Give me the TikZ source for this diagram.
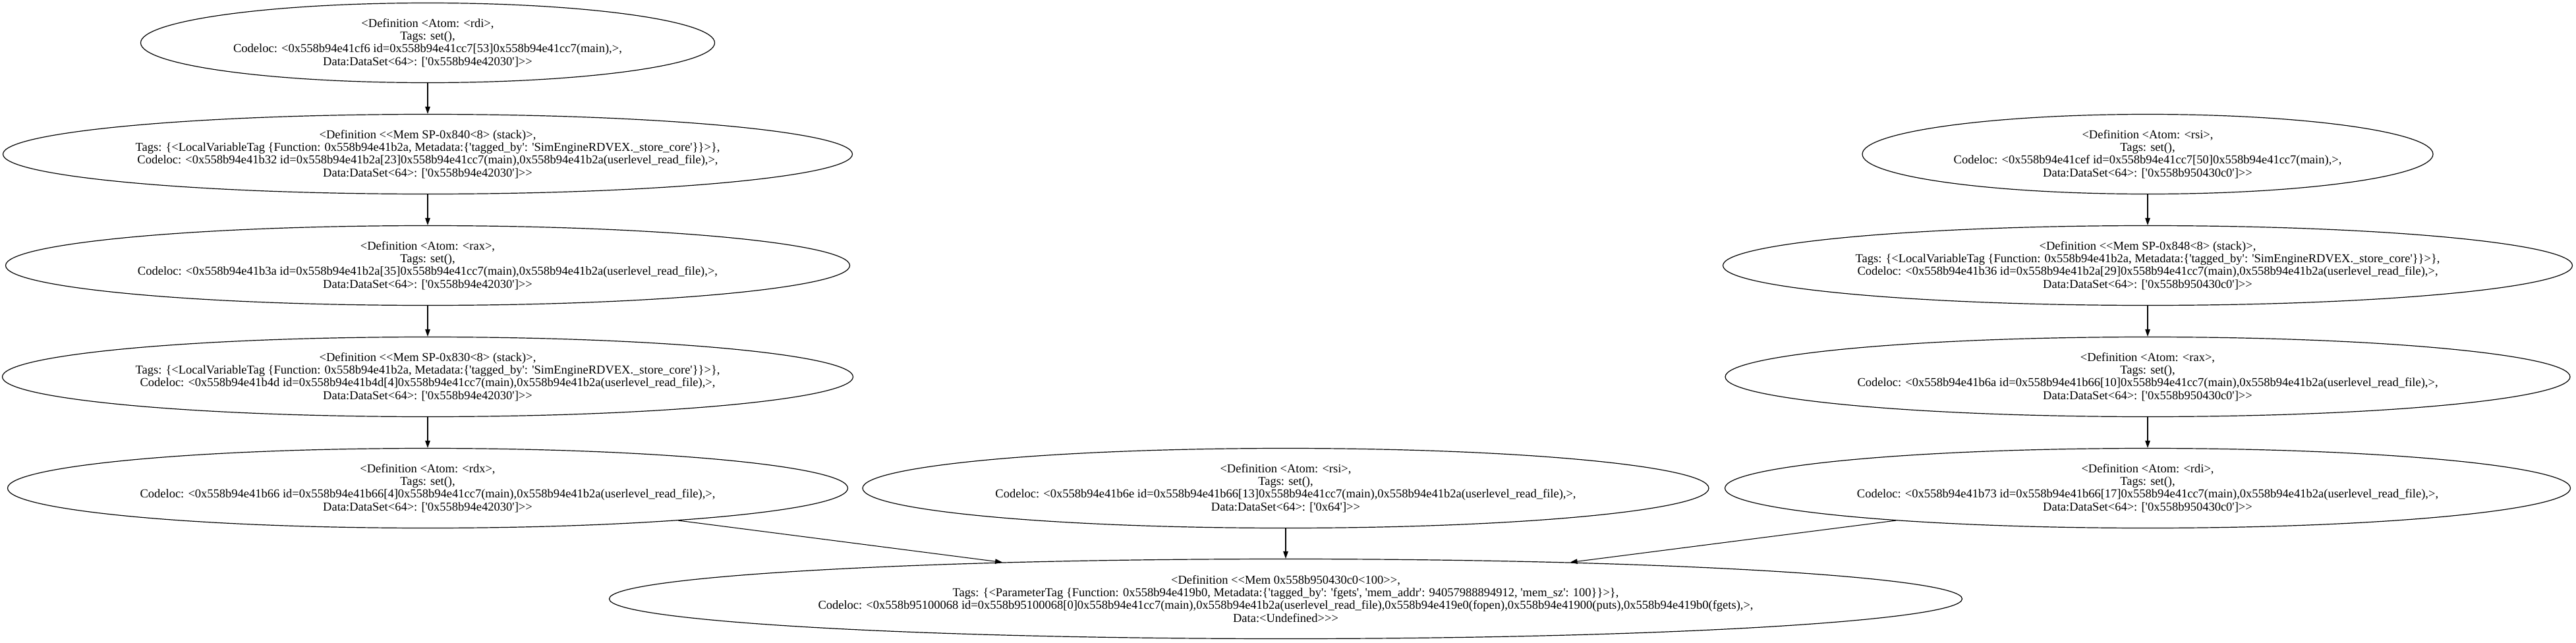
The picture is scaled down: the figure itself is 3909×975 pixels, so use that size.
\documentclass[tikz,border=0pt]{standalone}
\usepackage{fontspec}
\newfontfamily\gvfont{Liberation Serif}[Ligatures=TeXOff]
\usetikzlibrary{shapes.geometric,arrows.meta}
\tikzset{
  x=1pt, y=-1pt,
  ell/.style={draw, ellipse, line width=1.2pt, inner sep=0pt, minimum height=121pt},
  txt/.style={align=center, inner sep=0pt, font=\gvfont\fontsize{18.5}{19.2}\selectfont},
  edge/.style={line width=1.1pt, -{Triangle[length=11pt,width=7.5pt]}}
}
\begin{document}
\begin{tikzpicture}
\useasboundingbox (0,0) rectangle (3909,975);
% ellipses
\node[ell, minimum width=871pt]  (n1) at (649,65) {};
\node[ell, minimum width=1289pt] (n2) at (649,234) {};
\node[ell, minimum width=1281pt] (n3) at (649,403) {};
\node[ell, minimum width=1291pt] (n4) at (649,572) {};
\node[ell, minimum width=1275pt] (n5) at (649,741) {};
\node[ell, minimum width=1284pt] (m)  at (1951,741) {};
\node[ell, minimum width=2053pt] (b)  at (1951,909) {};
\node[ell, minimum width=866pt]  (r1) at (3259,234) {};
\node[ell, minimum width=1289pt] (r2) at (3259,403) {};
\node[ell, minimum width=1282pt] (r3) at (3259,572) {};
\node[ell, minimum width=1283pt] (r4) at (3259,741) {};
% texts
\node[txt] (n1t) at (n1) {<Definition <Atom: <rdi>,\\Tags: set(),\\Codeloc: <0x558b94e41cf6 id=0x558b94e41cc7[53]0x558b94e41cc7(main),>,\\Data:DataSet<64>: ['0x558b94e42030']>>};
\node[txt] (n2t) at (n2) {<Definition <<Mem SP-0x840<8> (stack)>,\\Tags: \{<LocalVariableTag \{Function: 0x558b94e41b2a, Metadata:\{'tagged\_by': 'SimEngineRDVEX.\_store\_core'\}\}>\},\\Codeloc: <0x558b94e41b32 id=0x558b94e41b2a[23]0x558b94e41cc7(main),0x558b94e41b2a(userlevel\_read\_file),>,\\Data:DataSet<64>: ['0x558b94e42030']>>};
\node[txt] (n3t) at (n3) {<Definition <Atom: <rax>,\\Tags: set(),\\Codeloc: <0x558b94e41b3a id=0x558b94e41b2a[35]0x558b94e41cc7(main),0x558b94e41b2a(userlevel\_read\_file),>,\\Data:DataSet<64>: ['0x558b94e42030']>>};
\node[txt] (n4t) at (n4) {<Definition <<Mem SP-0x830<8> (stack)>,\\Tags: \{<LocalVariableTag \{Function: 0x558b94e41b2a, Metadata:\{'tagged\_by': 'SimEngineRDVEX.\_store\_core'\}\}>\},\\Codeloc: <0x558b94e41b4d id=0x558b94e41b4d[4]0x558b94e41cc7(main),0x558b94e41b2a(userlevel\_read\_file),>,\\Data:DataSet<64>: ['0x558b94e42030']>>};
\node[txt] (n5t) at (n5) {<Definition <Atom: <rdx>,\\Tags: set(),\\Codeloc: <0x558b94e41b66 id=0x558b94e41b66[4]0x558b94e41cc7(main),0x558b94e41b2a(userlevel\_read\_file),>,\\Data:DataSet<64>: ['0x558b94e42030']>>};
\node[txt] (mt) at (m) {<Definition <Atom: <rsi>,\\Tags: set(),\\Codeloc: <0x558b94e41b6e id=0x558b94e41b66[13]0x558b94e41cc7(main),0x558b94e41b2a(userlevel\_read\_file),>,\\Data:DataSet<64>: ['0x64']>>};
\node[txt] (bt) at (b) {<Definition <<Mem 0x558b950430c0<100>>,\\Tags: \{<ParameterTag \{Function: 0x558b94e419b0, Metadata:\{'tagged\_by': 'fgets', 'mem\_addr': 94057988894912, 'mem\_sz': 100\}\}>\},\\Codeloc: <0x558b95100068 id=0x558b95100068[0]0x558b94e41cc7(main),0x558b94e41b2a(userlevel\_read\_file),0x558b94e419e0(fopen),0x558b94e41900(puts),0x558b94e419b0(fgets),>,\\Data:<Undefined>>>};
\node[txt] (r1t) at (r1) {<Definition <Atom: <rsi>,\\Tags: set(),\\Codeloc: <0x558b94e41cef id=0x558b94e41cc7[50]0x558b94e41cc7(main),>,\\Data:DataSet<64>: ['0x558b950430c0']>>};
\node[txt] (r2t) at (r2) {<Definition <<Mem SP-0x848<8> (stack)>,\\Tags: \{<LocalVariableTag \{Function: 0x558b94e41b2a, Metadata:\{'tagged\_by': 'SimEngineRDVEX.\_store\_core'\}\}>\},\\Codeloc: <0x558b94e41b36 id=0x558b94e41b2a[29]0x558b94e41cc7(main),0x558b94e41b2a(userlevel\_read\_file),>,\\Data:DataSet<64>: ['0x558b950430c0']>>};
\node[txt] (r3t) at (r3) {<Definition <Atom: <rax>,\\Tags: set(),\\Codeloc: <0x558b94e41b6a id=0x558b94e41b66[10]0x558b94e41cc7(main),0x558b94e41b2a(userlevel\_read\_file),>,\\Data:DataSet<64>: ['0x558b950430c0']>>};
\node[txt] (r4t) at (r4) {<Definition <Atom: <rdi>,\\Tags: set(),\\Codeloc: <0x558b94e41b73 id=0x558b94e41b66[17]0x558b94e41cc7(main),0x558b94e41b2a(userlevel\_read\_file),>,\\Data:DataSet<64>: ['0x558b950430c0']>>};
% edges
\draw[edge] (n1) -- (n2);
\draw[edge] (n2) -- (n3);
\draw[edge] (n3) -- (n4);
\draw[edge] (n4) -- (n5);
\draw[edge] (r1) -- (r2);
\draw[edge] (r2) -- (r3);
\draw[edge] (r3) -- (r4);
\draw[edge] (n5) -- (b);
\draw[edge] (m) -- (b);
\draw[edge] (r4) -- (b);
\end{tikzpicture}
\end{document}
